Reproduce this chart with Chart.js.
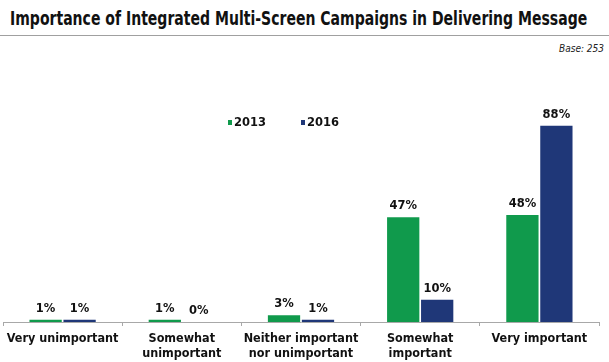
<!DOCTYPE html>
<html>
<head>
<meta charset="utf-8">
<script src="https://cdn.jsdelivr.net/npm/chart.js@4/dist/chart.umd.min.js"></script>
<style>
  body { margin: 0; background: #fff; }
  #wrap { position: relative; width: 609px; height: 362px; overflow: hidden; }
  #title {
    position: absolute; left: 10px; top: 7px;
    font-family: "DejaVu Sans Condensed", "DejaVu Sans", sans-serif;
    font-weight: bold; font-size: 19px; color: #111; white-space: nowrap;
    transform-origin: 0 0;
  }
  #rule { position: absolute; left: 0; top: 35px; width: 609px; height: 1px; background: #a0a0a0; }
  #base {
    position: absolute; right: 5px; top: 43px;
    font-family: "DejaVu Sans Condensed", sans-serif; font-style: italic; font-size: 10px; color: #222;
  }
  canvas { position: absolute; left: 0; top: 0; }
</style>
</head>
<body>
<div id="wrap">
  <div id="title">Importance of Integrated Multi-Screen Campaigns in Delivering Message</div>
  <div id="rule"></div>
  <div id="base">Base: 253</div>
  <canvas id="chart" width="609" height="362"></canvas>
</div>
<script>
const categories = [
  "Very unimportant",
  ["Somewhat", "unimportant"],
  ["Neither important", "nor unimportant"],
  ["Somewhat", "important"],
  "Very important"
];
const seriesNames = ["2013", "2016"];
const values2013 = [1, 1, 3, 47, 48];
const values2016 = [1, 0, 1, 10, 88];
const colors = ["#109a4c", "#1f3778"];

// squeeze the title to the width it has in the original
const title = document.getElementById('title');
const w = title.offsetWidth;
if (w > 0) title.style.transform = 'scaleX(' + (577 / w) + ')';

// draws the % labels over bars and the small legend in the middle of the plot
const labelPlugin = {
  id: 'barLabels',
  afterDatasetsDraw(chart) {
    const ctx = chart.ctx;
    ctx.save();
    ctx.font = 'bold 11.5px "DejaVu Sans"';
    ctx.fillStyle = '#111';
    ctx.textAlign = 'center';
    ctx.textBaseline = 'alphabetic';
    chart.data.datasets.forEach((ds, i) => {
      chart.getDatasetMeta(i).data.forEach((bar, j) => {
        ctx.fillText(ds.data[j] + '%', bar.x, bar.y - 8);
      });
    });
    // legend
    const legendX = [228, 301];
    ctx.textAlign = 'left';
    ctx.textBaseline = 'middle';
    seriesNames.forEach((name, i) => {
      ctx.fillStyle = colors[i];
      ctx.fillRect(legendX[i], 120, 4, 5);
      ctx.fillStyle = '#111';
      ctx.fillText(name, legendX[i] + 6, 123);
    });
    ctx.restore();
  }
};

new Chart(document.getElementById('chart'), {
  type: 'bar',
  data: {
    labels: categories,
    datasets: [
      { label: seriesNames[0], data: values2013, backgroundColor: colors[0] },
      { label: seriesNames[1], data: values2016, backgroundColor: colors[1] }
    ]
  },
  options: {
    responsive: false,
    animation: false,
    layout: { padding: { left: 3, right: 10, top: 99, bottom: 0 } },
    categoryPercentage: 0.57,
    barPercentage: 0.95,
    plugins: {
      legend: { display: false },
      tooltip: { enabled: false }
    },
    scales: {
      y: { display: false, min: 0, max: 100 },
      x: {
        afterFit: function(scale) { scale.height = 40; },
        border: { color: '#a8a8a8', width: 1 },
        grid: { offset: true, drawOnChartArea: false, tickLength: 4, color: '#a8a8a8' },
        ticks: {
          color: '#111',
          padding: 6,
          maxRotation: 0,
          font: { family: '"DejaVu Sans Condensed"', weight: 'bold', size: 12.5, lineHeight: 1.15 }
        }
      }
    }
  },
  plugins: [labelPlugin]
});
</script>
</body>
</html>
